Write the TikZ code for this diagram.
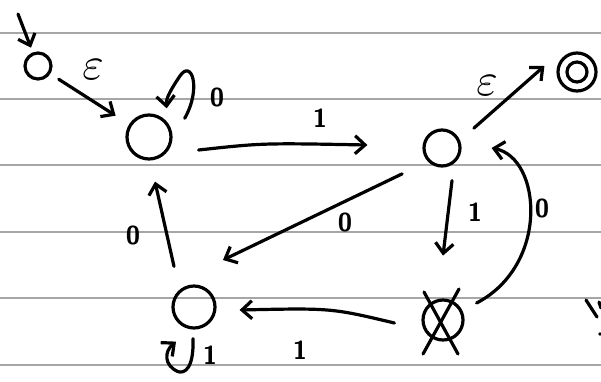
\documentclass[tikz,border=0pt]{standalone}
\usetikzlibrary{arrows.meta,calc}
\begin{document}
\begin{tikzpicture}[x=1pt,y=-1pt,
  ink/.style={line width=3.2pt,line cap=round,line join=round,black},
  state/.style={circle,draw,ink,inner sep=0pt},
  arr/.style={ink,-{Straight Barb[length=10pt,width=18pt,line width=3.2pt]}},
  lbl/.style={font=\sffamily\bfseries\fontsize{26}{28}\selectfont,inner sep=0pt},
  eps/.style={inner sep=0pt,scale=4.6},
  rule/.style={line width=1.2pt,gray!70}]
\useasboundingbox (0,0) rectangle (601,381);
\fill[white] (0,0) rectangle (601,381);
% ruled paper
\foreach \yy in {33,99,165,232,298,365} \draw[rule] (0,\yy) -- (601,\yy);
% states
\node[state,minimum size=26pt] (s0) at (38,66) {};
\node[state,minimum size=44pt] (A) at (149,137) {};
\node[state,minimum size=36pt] (B) at (442,148) {};
\node[state,minimum size=38pt] (F) at (577,72) {};
\draw[ink] (F.center) circle (10);
\node[state,minimum size=42pt] (C) at (194,307) {};
\node[state,minimum size=40pt] (D) at (443,320) {};
\draw[ink] ($(D.center)+(-19,-28)$) -- ($(D.center)+(15,34)$);
\draw[ink] ($(D.center)+(16,-31)$) -- ($(D.center)+(-20,34)$);
% initial
\coordinate (i) at (18,14);
\draw[arr,shorten >=5pt] (i) -- (s0);
% transitions
\draw[arr,shorten <=10pt,shorten >=16pt] (s0) -- (A);
\draw[arr] ($(A.east)+(26,13)$) .. controls ($(A.east)+(90,6)$) .. ($(B.west)+(-55,-3)$);
\draw[arr] ($(B.north east)+(18,-6)$) -- ($(F.west)+(-12,-6)$);
\draw[arr] ($(B.south)+(10,13)$) -- ($(B.south)+(1,88)$);
\draw[arr] ($(D.east)+(12,-17)$) .. controls ($(D.east)+(85,-55)$) and ($(B.east)+(80,10)$) .. ($(B.east)+(30,0)$);
\draw[arr] ($(D.west)+(-27,3)$) .. controls ($(D.west)+(-90,-12)$) .. ($(C.east)+(23,3)$);
\draw[arr] ($(B.south west)+(-26,12)$) -- ($(C.north east)+(13,-31)$);
\draw[arr] ($(C.north)+(-20,-18)$) -- ($(A.south)+(6,21)$);
% self loops
\draw[arr] ($(A.north east)+(19,-2)$) .. controls ($(A.north east)+(36,-32)$) and ($(A.north east)+(26,-62)$) .. ($(A.north east)+(14,-44)$) .. controls ($(A.north east)+(6,-32)$) and ($(A.north east)+(0,-22)$) .. ($(A.north east)+(1,-12)$);
\draw[arr] ($(C.south)+(-1,9)$) .. controls ($(C.south)+(0,40)$) and ($(C.south)+(-10,44)$) .. ($(C.south)+(-16,42)$) .. controls ($(C.south)+(-30,36)$) and ($(C.south)+(-30,22)$) .. ($(C.south)+(-18,12)$);
% labels
\node[eps] (le1) at (93,70) {$\varepsilon$};
\node[lbl] (l0a) at (217,97) {0};
\node[lbl] (l1ab) at (320,118) {1};
\node[eps] (le2) at (487,86) {$\varepsilon$};
\node[lbl] (l0bc) at (345,222) {0};
\node[lbl] (l1bd) at (475,212) {1};
\node[lbl] (l0db) at (542,208) {0};
\node[lbl] (l0ca) at (133,235) {0};
\node[lbl] (l1c) at (210,355) {1};
\node[lbl] (l1dc) at (300,350) {1};
% cut-off marks at right edge
\draw[ink] (586,300) -- (597,317);
\draw[ink] (599,302) -- (601,308);
\fill (600,334) circle (1.8);
\end{tikzpicture}
\end{document}
